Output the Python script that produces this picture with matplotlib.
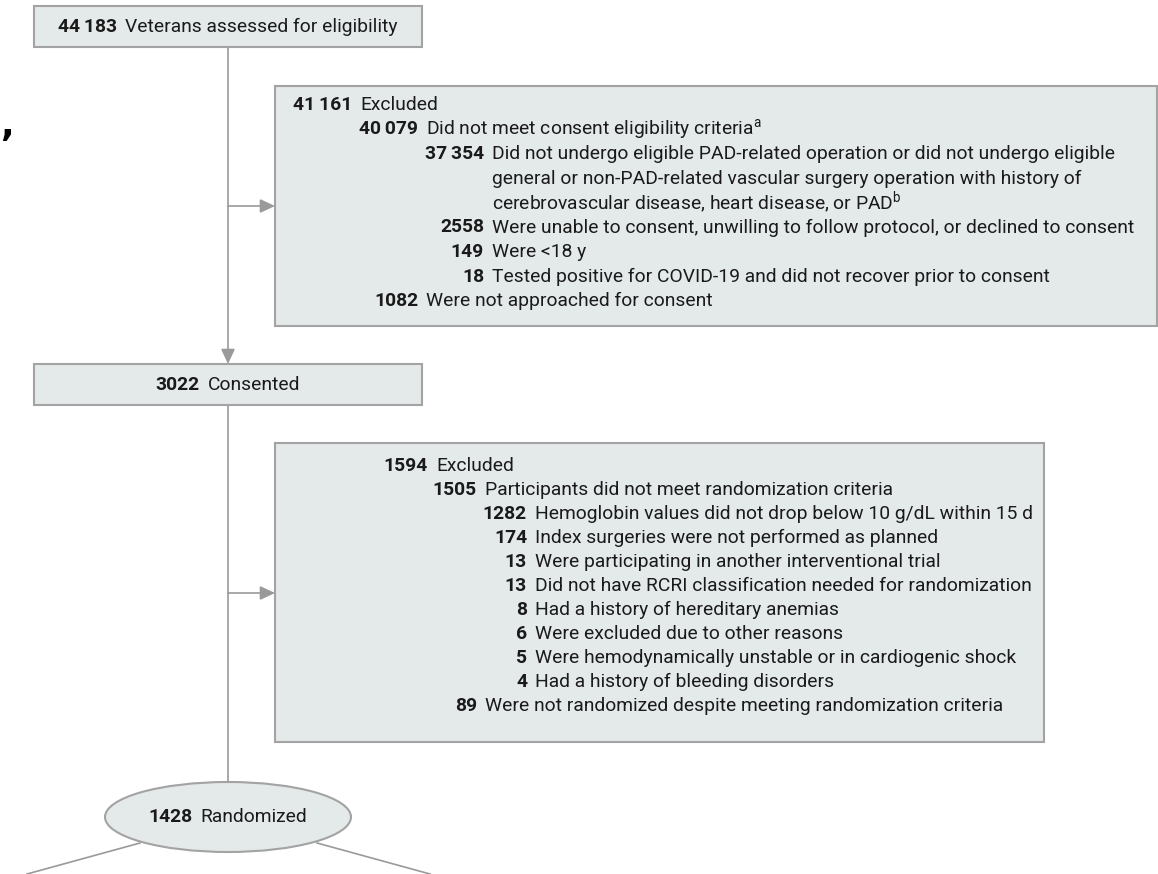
import matplotlib
matplotlib.use("Agg")
import matplotlib.pyplot as plt
from matplotlib.patches import Rectangle, Ellipse, FancyArrowPatch

plt.rcParams['font.family'] = ['Roboto', 'DejaVu Sans']
plt.rcParams['mathtext.fontset'] = 'custom'
plt.rcParams['mathtext.rm'] = 'Roboto'

# --- datos del diagrama ---
assessed_n = "44\u2009183"
assessed_label = "Veterans assessed for eligibility"
consented_n = "3022"
consented_label = "Consented"
randomized_n = "1428"
randomized_label = "Randomized"

excl1_counts = ["41\u2009161", "40\u2009079", "37\u2009354", "2558", "149", "18", "1082"]
excl1_labels = [
    "Excluded",
    r"Did not meet consent eligibility criteria$^{\mathrm{a}}$",
    "Did not undergo eligible PAD-related operation or did not undergo eligible\n"
    "general or non-PAD-related vascular surgery operation with history of\n"
    r"cerebrovascular disease, heart disease, or PAD$^{\mathrm{b}}$",
    "Were unable to consent, unwilling to follow protocol, or declined to consent",
    "Were <18 y",
    "Tested positive for COVID-19 and did not recover prior to consent",
    "Were not approached for consent",
]
excl1_levels = [0, 1, 2, 2, 2, 2, 1]

excl2_counts = ["1594", "1505", "1282", "174", "13", "13", "8", "6", "5", "4", "89"]
excl2_labels = [
    "Excluded",
    "Participants did not meet randomization criteria",
    "Hemoglobin values did not drop below 10 g/dL within 15 d",
    "Index surgeries were not performed as planned",
    "Were participating in another interventional trial",
    "Did not have RCRI classification needed for randomization",
    "Had a history of hereditary anemias",
    "Were excluded due to other reasons",
    "Were hemodynamically unstable or in cardiogenic shock",
    "Had a history of bleeding disorders",
    "Were not randomized despite meeting randomization criteria",
]
excl2_levels = [0, 1, 2, 2, 2, 2, 2, 2, 2, 2, 1]

# --- estilo ---
FILL = "#e4e9e9"
EDGE = "#a3a3a3"
LINE = "#9a9a9a"
TXT = "#1a1a1a"
FS = 13.9
GAP = 8

fig = plt.figure(figsize=(11.58, 8.74), dpi=100)
ax = fig.add_axes([0, 0, 1, 1])
ax.set_xlim(0, 1158)
ax.set_ylim(874, 0)
ax.axis("off")
renderer = fig.canvas.get_renderer()


def caja(x0, y0, x1, y1):
    ax.add_patch(Rectangle((x0, y0), x1 - x0, y1 - y0, facecolor=FILL,
                           edgecolor=EDGE, linewidth=1.5, zorder=2))


def renglon(xr, y, n, label):
    t1 = ax.text(xr, y, n, ha="right", va="center", fontsize=FS,
                 fontweight="bold", color=TXT, zorder=3)
    t2 = ax.text(xr + GAP, y, label, ha="left", va="center", fontsize=FS,
                 color=TXT, zorder=3)
    return t1, t2


def centrado(xc, y, n, label):
    # coloca numero + texto centrados en xc
    t1, t2 = renglon(0, y, n, label)
    w1 = t1.get_window_extent(renderer).width
    w2 = t2.get_window_extent(renderer).width
    x0 = xc - (w1 + GAP + w2) / 2
    t1.set_x(x0 + w1)
    t2.set_x(x0 + w1 + GAP)


def flecha(p0, p1, head=True):
    style = "-|>,head_length=0.75,head_width=0.35" if head else "-"
    ax.add_patch(FancyArrowPatch(p0, p1, arrowstyle=style, mutation_scale=12,
                                 color=LINE, linewidth=1.2, shrinkA=0,
                                 shrinkB=0, zorder=1))


def lista(counts, labels, levels, xs, y0, dy):
    fila = 0
    for n, lab, lv in zip(counts, labels, levels):
        partes = lab.split("\n")
        renglon(xs[lv], y0 + fila * dy, n, partes[0])
        for extra in partes[1:]:
            fila += 1
            ax.text(xs[lv] + GAP, y0 + fila * dy, extra, ha="left",
                    va="center", fontsize=FS, color=TXT, zorder=3)
        fila += 1


# conectores
flecha((228, 47), (228, 364))
flecha((228, 405), (228, 782), head=False)
flecha((228, 206), (275, 206))
flecha((228, 593), (275, 593))
ax.plot([140, 27], [843, 874], color=LINE, lw=1.2, zorder=1)
ax.plot([317, 430], [843, 874], color=LINE, lw=1.2, zorder=1)

# cajas principales
caja(34, 6, 422, 47)
centrado(228, 27, assessed_n, assessed_label)
caja(34, 364, 422, 405)
centrado(228, 385, consented_n, consented_label)

ax.add_patch(Ellipse((228, 817), 246, 70, facecolor=FILL, edgecolor=EDGE,
                     linewidth=1.5, zorder=2))
centrado(228, 817, randomized_n, randomized_label)

# cajas de exclusion
caja(275, 86, 1157, 326)
lista(excl1_counts, excl1_labels, excl1_levels, {0: 352, 1: 418, 2: 484}, 105, 24.5)

caja(275, 443, 1044, 742)
lista(excl2_counts, excl2_labels, excl2_levels, {0: 428, 1: 477, 2: 527}, 466, 24)

# fragmento de la figura vecina
ax.text(0, 126, ",", ha="left", va="center", fontsize=26, fontweight="bold",
        color="black", family="DejaVu Sans")

fig.savefig("out.png", dpi=100)
